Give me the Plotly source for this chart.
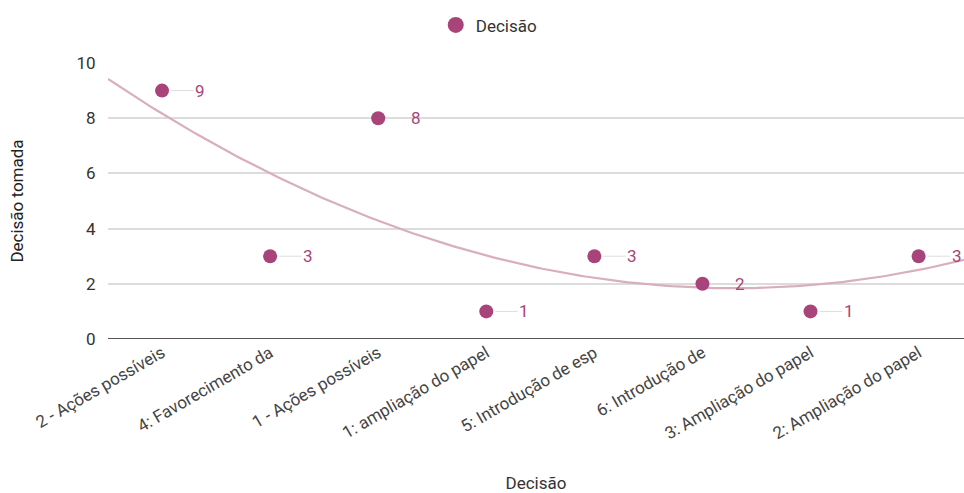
import numpy as np
import plotly.graph_objects as go

categories = ["2 - Ações possíveis", "4: Favorecimento da", "1 - Ações possíveis",
              "1: ampliação do papel", "5: Introdução de esp", "6: Introdução de",
              "3: Ampliação do papel", "2: Ampliação do papel"]
values = [9, 3, 8, 1, 3, 2, 1, 3]
y_ticks = [0, 2, 4, 6, 8, 10]

marker_color = "#a8447a"
trend_color = "#d9aebd"

xi = np.arange(len(categories))
coef = np.polyfit(xi, values, 2)
x_min, x_max = -0.5, 7.42
xt = np.linspace(x_min, x_max, 200)
yt = np.polyval(coef, xt)

fig = go.Figure()
fig.add_trace(go.Scatter(x=xt, y=yt, mode="lines", line=dict(color=trend_color, width=2.2),
                         showlegend=False, hoverinfo="skip"))
fig.add_trace(go.Scatter(x=xi, y=values, mode="markers", name="Decisão", showlegend=False,
                         marker=dict(color=marker_color, size=14)))
# legend entry with a larger symbol
fig.add_trace(go.Scatter(x=[None], y=[None], mode="markers", name="Decisão",
                         marker=dict(color=marker_color, size=19)))

for x, v in zip(xi, values):
    fig.add_annotation(x=x, y=v, xref="x", yref="y", text=str(v), showarrow=True,
                       arrowhead=0, arrowwidth=1, arrowcolor="#dddddd", ax=38, ay=0,
                       standoff=9, font=dict(color=marker_color, size=17, family="Roboto"),
                       xanchor="center")

fig.update_layout(
    width=964, height=493,
    margin=dict(l=108, r=0, t=63, b=149),
    paper_bgcolor="white", plot_bgcolor="white",
    font=dict(family="Roboto", size=16, color="#333333"),
    legend=dict(orientation="h", x=0.452, xanchor="left", xref="container",
                y=0.985, yanchor="top", yref="container",
                font=dict(size=17, color="#333333"), itemsizing="trace"),
    xaxis=dict(range=[x_min, x_max], tickmode="array", tickvals=list(xi), ticktext=categories,
               tickangle=-30, showgrid=False, zeroline=False, showline=False,
               tickfont=dict(size=17, color="#444444"),
               title=dict(text="Decisão", font=dict(size=17, color="#333333"), standoff=38)),
    yaxis=dict(range=[0, 10], tickmode="array", tickvals=y_ticks, showgrid=True,
               gridcolor="#dcdcdc", gridwidth=1.5, zeroline=False, showline=False,
               ticks="outside", ticklen=8, tickcolor="white",
               tickfont=dict(size=17, color="#333333"),
               title=dict(text="Decisão tomada", font=dict(size=17, color="#222222"), standoff=48)),
)
fig.add_shape(type="line", xref="paper", yref="y", x0=0, x1=1, y0=0, y1=0,
              line=dict(color="#555555", width=2))
fig.write_html("out.html")
